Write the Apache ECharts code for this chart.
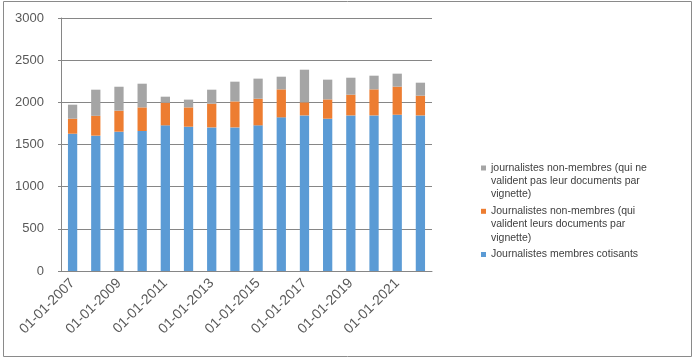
<!DOCTYPE html>
<html>
<head>
<meta charset="utf-8">
<script src="https://cdn.jsdelivr.net/npm/echarts@6/dist/echarts.min.js"></script>
<style>html,body{margin:0;padding:0;background:#fff}#c{width:695px;height:361px}</style>
</head>
<body>
<div id="c"></div>
<script>
var categories = ['01-01-2007','01-01-2008','01-01-2009','01-01-2010','01-01-2011','01-01-2012','01-01-2013','01-01-2014','01-01-2015','01-01-2016','01-01-2017','01-01-2018','01-01-2019','01-01-2020','01-01-2021','01-01-2022'];
var membres = [1628,1605,1652,1660,1727,1711,1703,1703,1727,1822,1845,1806,1845,1845,1853,1845];
var nonMembresVignette = [178,235,249,280,269,229,281,308,316,332,155,229,246,309,333,234];
var nonMembresSansVignette = [166,310,284,281,71,92,166,234,238,150,387,234,201,162,154,154];
var seriesNames = [
  'Journalistes membres cotisants',
  'Journalistes non-membres (qui valident leurs documents par vignette)',
  'journalistes non-membres (qui ne valident pas leur documents par vignette)'
];
var legendLines = {};
legendLines[seriesNames[0]] = 'Journalistes membres cotisants';
legendLines[seriesNames[1]] = 'Journalistes non-membres (qui\nvalident leurs documents par\nvignette)';
legendLines[seriesNames[2]] = 'journalistes non-membres (qui ne\nvalident pas leur documents par\nvignette)';
var colors = ['#5B9BD5','#ED7D31','#A5A5A5'];
var yTicks = {min:0, max:3000, interval:500};

var chart = echarts.init(document.getElementById('c'), null, {renderer:'canvas'});
var font = 'Liberation Sans, Arial, sans-serif';
function legendFor(name, top, multi){
  return {
    data:[{name:name, icon:'rect'}],
    left:481, top:top, padding:0,
    orient:'vertical',
    itemWidth:5, itemHeight:5,
    selectedMode:false,
    formatter:function(n){return (multi ? '\n\n' : '') + legendLines[n];},
    textStyle:{fontFamily:font, fontSize:10.5, color:'#404040', lineHeight:13.3}
  };
}
var option = {
  animation:false,
  color:colors,
  graphic:[{type:'rect', shape:{x:3.5,y:1.5,width:688,height:355}, style:{fill:'none', stroke:'#8a8a8a', lineWidth:1}, silent:true, z:-1}],
  grid:{left:61, right:263, top:18, bottom:90},
  legend:[
    legendFor(seriesNames[2], 168-33.25, true),
    legendFor(seriesNames[1], 211.3-33.25, true),
    legendFor(seriesNames[0], 254.5-6.65, false)
  ],
  xAxis:{
    type:'category', data:categories,
    axisLine:{lineStyle:{color:'#868686'}},
    axisTick:{interval:1, length:5, lineStyle:{color:'#868686'}},
    axisLabel:{interval:1, rotate:45, fontFamily:font, fontSize:14, color:'#595959', margin:10}
  },
  yAxis:{
    type:'value', min:yTicks.min, max:yTicks.max, interval:yTicks.interval,
    axisLine:{show:true, lineStyle:{color:'#868686'}},
    axisTick:{show:true, length:3, lineStyle:{color:'#868686'}},
    splitLine:{lineStyle:{color:'#868686'}},
    axisLabel:{fontFamily:font, fontSize:13, color:'#595959', margin:17,
      formatter:function(v){return String(v);}}
  },
  series:[
    {name:seriesNames[0], type:'bar', stack:'t', data:membres, barWidth:'40%'},
    {name:seriesNames[1], type:'bar', stack:'t', data:nonMembresVignette, barWidth:'40%'},
    {name:seriesNames[2], type:'bar', stack:'t', data:nonMembresSansVignette, barWidth:'40%'}
  ]
};
chart.setOption(option);
</script>
</body>
</html>
